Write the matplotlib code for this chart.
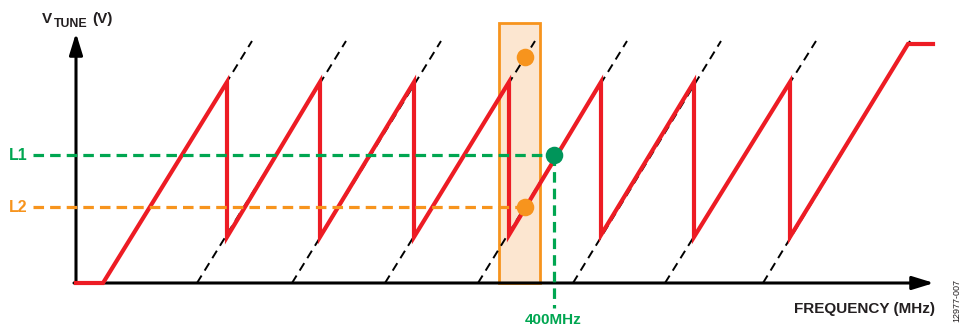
import matplotlib
matplotlib.use("Agg")
import matplotlib.pyplot as plt
from matplotlib.patches import Rectangle

plt.rcParams['font.family'] = ['Liberation Sans', 'DejaVu Sans']

# ---- data (diagram units: frequency axis x, tuning voltage v) ----
saw_f = [76, 103, 227, 227, 320, 320, 414, 414, 509, 509, 601, 601, 694, 694, 790, 790, 908, 933]
saw_v = [0, 0, 201, 46, 201, 46, 201, 46, 201, 48, 201, 48, 201, 46, 201, 46, 239, 239]

# VCO band lines (extensions of each sawtooth tooth)
band_f_start = [103, 197, 292, 385, 478, 573, 665, 763]
band_f_end = [252, 346, 441, 535, 627, 721, 816, 910]
band_v_start = 0
band_v_end = 242

L1_v = 128
L2_v = 76
target_f = 554
orange_pts_f = [525, 525]
orange_pts_v = [226, 76]
green_pt_f = [554]
green_pt_v = [128]
window_f = (499, 540)
window_v_top = 260

RED = '#ED1C24'
ORANGE = '#F7941D'
GREEN = '#00A651'
DKGREEN = '#00955A'
TXT = '#231F20'

fig = plt.figure(figsize=(9.61, 3.28), dpi=100)
ax = fig.add_axes([0, 0, 1, 1])
ax.set_xlim(0, 961)
ax.set_ylim(-45, 283)
ax.axis('off')

# highlighted window
ax.add_patch(Rectangle((window_f[0], 0), window_f[1] - window_f[0], window_v_top,
                       facecolor='#FCE6D0', edgecolor=ORANGE, lw=2.0, zorder=1))

# band extension lines
for f0, f1 in zip(band_f_start, band_f_end):
    ax.plot([f0, f1], [band_v_start, band_v_end], color='black', lw=1.4,
            dashes=(4.5, 3.0), zorder=2)

# axes with arrows
ax.annotate('', xy=(76, 250), xytext=(76, 0),
            arrowprops=dict(arrowstyle='-|>,head_length=0.65,head_width=0.2',
                            mutation_scale=20, lw=2.2, color='black',
                            shrinkA=0, shrinkB=0), zorder=3)
ax.annotate('', xy=(934, 0), xytext=(74, 0),
            arrowprops=dict(arrowstyle='-|>,head_length=0.65,head_width=0.2',
                            mutation_scale=20, lw=2.2, color='black',
                            shrinkA=0, shrinkB=0), zorder=3)

# sawtooth tuning curve
ax.plot(saw_f, saw_v, color=RED, lw=3.0, solid_joinstyle='miter', zorder=4)

# threshold lines
ax.plot([33, green_pt_f[0]], [L1_v, L1_v], color=GREEN, lw=2.3, dashes=(3.3, 1.9), zorder=5)
ax.plot([33, orange_pts_f[1]], [L2_v, L2_v], color=ORANGE, lw=2.3, dashes=(3.3, 1.9), zorder=5)
ax.plot([target_f, target_f], [L1_v, -25], color=GREEN, lw=2.3, dashes=(3.3, 1.9), zorder=5)

# points
ax.scatter(orange_pts_f, orange_pts_v, s=160, color=ORANGE, zorder=6, linewidths=0)
ax.scatter(green_pt_f, green_pt_v, s=160, color=DKGREEN, zorder=6, linewidths=0)

# labels
ax.text(42, 260, 'V', fontsize=11, fontweight='bold', color=TXT, ha='left', va='baseline')
ax.text(53.5, 256, 'TUNE', fontsize=8.9, fontweight='bold', color=TXT, ha='left', va='baseline')
ax.text(92, 260, '(V)', fontsize=11, fontweight='bold', color=TXT, ha='left', va='baseline')
ax.text(935, -30, 'FREQUENCY (MHz)', fontsize=11, fontweight='bold', color=TXT,
        ha='right', va='baseline')
ax.text(9, L1_v, 'L1', fontsize=11.5, fontweight='bold', color=GREEN, ha='left', va='center')
ax.text(9, L2_v, 'L2', fontsize=11.5, fontweight='bold', color=ORANGE, ha='left', va='center')
ax.text(553, -44.5, '400MHz', fontsize=11, fontweight='bold', color=GREEN,
        ha='center', va='bottom')
ax.text(957, 4, '12977-007', fontsize=6.5, color=TXT, rotation=90, ha='center', va='top')

fig.savefig('out.png', dpi=100)
